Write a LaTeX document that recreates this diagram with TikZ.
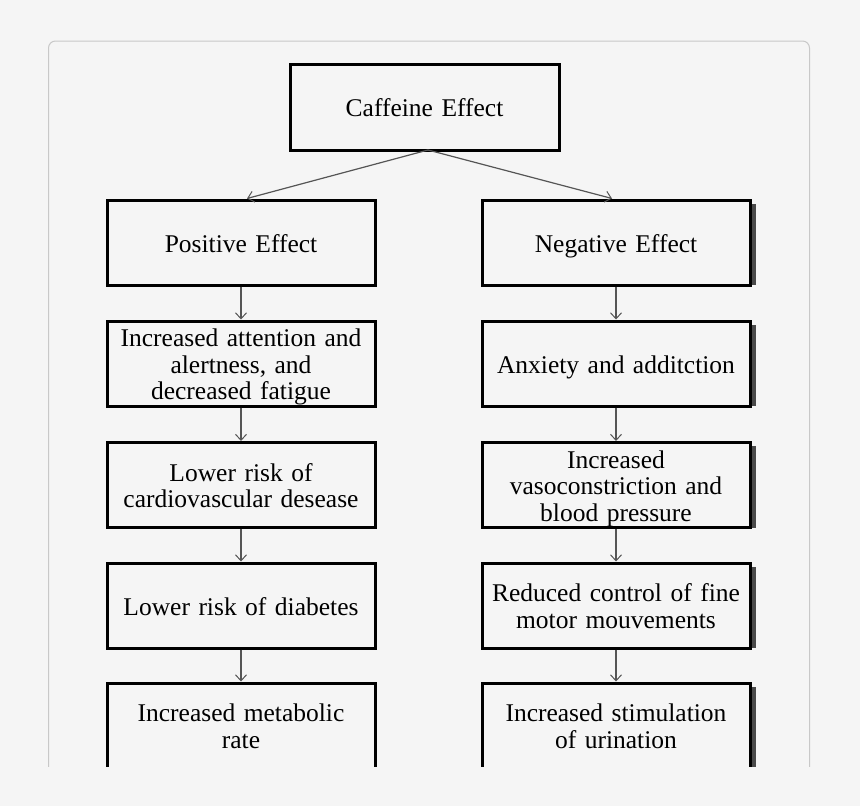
\documentclass[tikz,border=0pt]{standalone}
\usepackage{fontspec}
\setmainfont{Liberation Serif}
\usetikzlibrary{arrows.meta}
\definecolor{bgc}{HTML}{F5F5F5}
\definecolor{panelc}{HTML}{C8C8C8}
\definecolor{arrowc}{HTML}{555555}
\definecolor{shadowc}{HTML}{4A4A4A}
\newcommand\topstrut{\rule{0pt}{25pt}}
\newcommand\botstrut{\rule[-6pt]{0pt}{6pt}}
\tikzset{
  box/.style={draw=black, line width=3pt, fill=bgc, minimum width=268pt, minimum height=85pt,
    inner sep=0pt, align=center, text width=262pt,
    font=\fontsize{25.5}{26.5}\selectfont,
    execute at begin node=\topstrut, execute at end node=\botstrut},
  conn/.style={draw=arrowc, line width=1.5pt, -{Straight Barb[length=6pt,width=11pt,line width=1pt]}},
}
\begin{document}
\begin{tikzpicture}[x=1pt,y=-1pt]
\useasboundingbox (0,0) rectangle (860,806);
\fill[bgc] (0,0) rectangle (860,806);
\begin{scope}
\clip (0,0) rectangle (860,766);
\draw[panelc, line width=1pt, fill=bgc, rounded corners=7pt] (48.5,41) rectangle (809.5,820);
% right-column shadows
\foreach \yy in {242.5,363.5,485,605.5,725.5}{
  \fill[shadowc] (750,\yy-39) rectangle (755.5,\yy+42.5);
}
\node[box, minimum width=269pt, minimum height=86pt] (caf) at (424.5,107) {Caffeine Effect};
\coordinate (fork) at (428,150);
\node[box] (pos) at (241,242.5) {Positive Effect};
\node[box] (p1) at (241,363.5) {Increased attention and\\alertness, and\\decreased fatigue};
\node[box] (p2) at (241,485) {Lower risk of\\cardiovascular desease};
\node[box] (p3) at (241,605.5) {Lower risk of diabetes};
\node[box] (p4) at (241,725.5) {Increased metabolic\\rate};
\node[box] (neg) at (616,242.5) {Negative Effect};
\node[box] (n1) at (616,363.5) {Anxiety and additction};
\node[box] (n2) at (616,485) {Increased\\vasoconstriction and\\blood pressure};
\node[box] (n3) at (616,605.5) {Reduced control of fine\\motor mouvements};
\node[box] (n4) at (616,725.5) {Increased stimulation\\of urination};
\draw[conn, line width=1.2pt] (fork) -- ([xshift=6pt]pos.north);
\draw[conn, line width=1.2pt] (fork) -- ([xshift=-4pt]neg.north);
\draw[conn] (pos) -- (p1);
\draw[conn] (p1) -- (p2);
\draw[conn] (p2) -- (p3);
\draw[conn] (p3) -- (p4);
\draw[conn, line width=1.1pt] (neg) -- (n1);
\draw[conn, line width=1.1pt] (n1) -- (n2);
\draw[conn, line width=1.1pt] (n2) -- (n3);
\draw[conn, line width=1.1pt] (n3) -- (n4);
\end{scope}
\end{tikzpicture}
\end{document}
